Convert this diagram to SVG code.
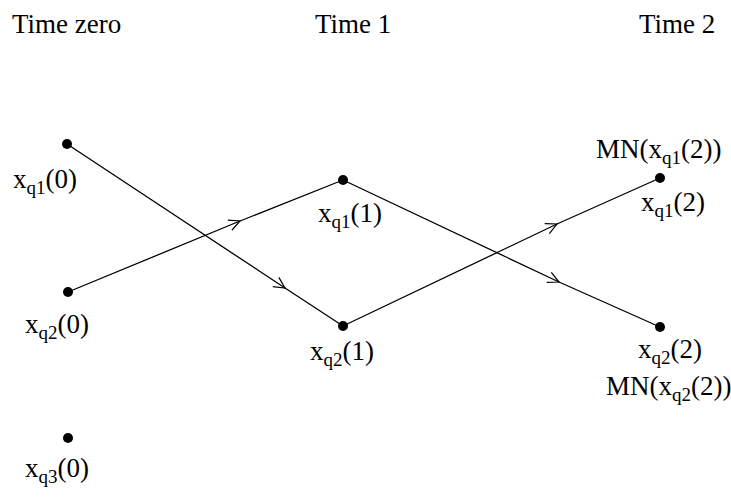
<svg xmlns="http://www.w3.org/2000/svg" width="731" height="501" viewBox="0 0 731 501">
<style>
text{font-family:"Liberation Serif","Times New Roman",serif;font-size:27px;fill:#000}
.s{font-size:19px}
.e{stroke:#000;stroke-width:1.3;fill:none}
.n{fill:#000}
</style>
<defs>
<marker id="ar" viewBox="0 0 14 14" refX="12" refY="7" markerWidth="14" markerHeight="14" markerUnits="userSpaceOnUse" orient="auto">
<path d="M1,1.5 L12,7 L1,12.5" fill="none" stroke="#000" stroke-width="1.2"/>
</marker>
</defs>
<rect width="731" height="501" fill="#fff"/>
<g id="headers">
<text x="12" y="33">Time zero</text>
<text x="315" y="33">Time 1</text>
<text x="639" y="33">Time 2</text>
</g>
<g id="connectors">
<path class="e" d="M67,144 L285,288 L343,326" marker-mid="url(#ar)"/>
<path class="e" d="M68,292 L240,221 L343,180" marker-mid="url(#ar)"/>
<path class="e" d="M343,180 L559,282 L660,327" marker-mid="url(#ar)"/>
<path class="e" d="M343,326 L557,224 L660,178" marker-mid="url(#ar)"/>
</g>
<g id="n-q1-0"><circle class="n" cx="67" cy="144" r="5"/><text x="13" y="188">x<tspan class="s" dy="6">q1</tspan><tspan dy="-6">(0)</tspan></text></g>
<g id="n-q2-0"><circle class="n" cx="68" cy="292" r="5"/><text x="25" y="333">x<tspan class="s" dy="6">q2</tspan><tspan dy="-6">(0)</tspan></text></g>
<g id="n-q3-0"><circle class="n" cx="68" cy="438" r="5"/><text x="25" y="477">x<tspan class="s" dy="6">q3</tspan><tspan dy="-6">(0)</tspan></text></g>
<g id="n-q1-1"><circle class="n" cx="343" cy="180" r="5"/><text x="318" y="222">x<tspan class="s" dy="6">q1</tspan><tspan dy="-6">(1)</tspan></text></g>
<g id="n-q2-1"><circle class="n" cx="343" cy="326" r="5"/><text x="310" y="360">x<tspan class="s" dy="6">q2</tspan><tspan dy="-6">(1)</tspan></text></g>
<g id="n-q1-2"><circle class="n" cx="660" cy="178" r="5"/><text x="596" y="158">MN(x<tspan class="s" dy="6">q1</tspan><tspan dy="-6">(2))</tspan></text><text x="641" y="211">x<tspan class="s" dy="6">q1</tspan><tspan dy="-6">(2)</tspan></text></g>
<g id="n-q2-2"><circle class="n" cx="660" cy="327" r="5"/><text x="638" y="358">x<tspan class="s" dy="6">q2</tspan><tspan dy="-6">(2)</tspan></text><text x="606" y="395">MN(x<tspan class="s" dy="6">q2</tspan><tspan dy="-6">(2))</tspan></text></g>
</svg>
